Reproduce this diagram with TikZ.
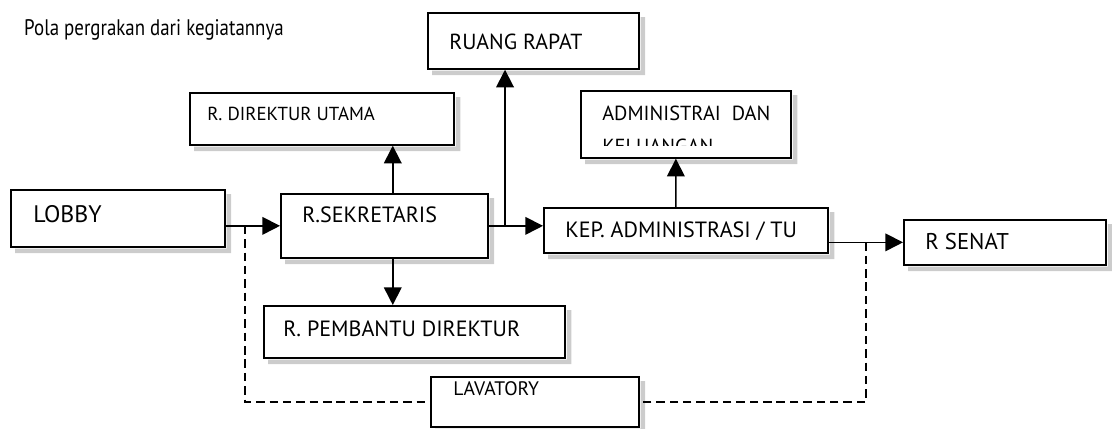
\documentclass[tikz,border=0pt]{standalone}
\usepackage{fontspec}
\setmainfont{PT Sans}
\usetikzlibrary{calc}
\usetikzlibrary{arrows.meta}

\begin{document}
\begin{tikzpicture}[x=0.025cm, y=-0.025cm, >={Triangle[length=0.44cm, width=0.44cm]},
  ruang/.style={draw, line width=1.2pt, fill=white, inner sep=0pt, anchor=north west},
  bayang/.style={fill=gray!40},
  teks/.style={anchor=base west, inner sep=0pt, font=\fontsize{#1}{#1}\selectfont},
  teks/.default=16,
  alur/.style={->, line width=1.2pt},
  lewat/.style={line width=1.2pt, dash pattern=on 6pt off 3.5pt}]

  \useasboundingbox (0,0) rectangle (1112,428);

  % ---------- Title ----------
  \node[teks=16, xscale=0.84, transform shape] (judul) at (24,35) {Pola pergrakan dari kegiatannya};

  % ---------- Rooms ----------
  \node[ruang, minimum width=5.275cm, minimum height=1.4cm]   (rapat)    at (427,12)  {};
  \node[ruang, minimum width=6.6cm,   minimum height=1.3cm]   (dirut)    at (189,92)  {};
  \node[ruang, minimum width=5.25cm,  minimum height=1.675cm] (admin)    at (580,90)  {};
  \node[ruang, minimum width=5.35cm,  minimum height=1.425cm] (lobby)    at (10,189)  {};
  \node[ruang, minimum width=5.175cm, minimum height=1.6cm]   (sek)      at (280,193) {};
  \node[ruang, minimum width=7.1cm,   minimum height=1.125cm] (kep)      at (543,207) {};
  \node[ruang, minimum width=5.05cm,  minimum height=1.125cm] (senat)    at (903,219) {};
  \node[ruang, minimum width=7.525cm, minimum height=1.3cm]   (pembantu) at (263,305) {};
  \node[ruang, minimum width=5.2cm,   minimum height=1.25cm]  (lav)      at (430,376) {};

  % shadow strips on the right and bottom sides
  \foreach \r in {rapat,dirut,admin,lobby,sek,kep,senat,pembantu,lav}
    \fill[bayang] ($(\r.north east)+(1,5)$) -- ($(\r.north east)+(5.5,5)$)
      -- ($(\r.south east)+(5.5,5.5)$) -- ($(\r.south west)+(5,5.5)$)
      -- ($(\r.south west)+(5,1)$) -- ($(\r.south east)+(1,1)$) -- cycle;

  % room names
  \node[teks=15.5] (t-rapat)    at (449,49)  {RUANG RAPAT};
  \node[teks=13.4] (t-dirut)    at (207,120) {R. DIREKTUR UTAMA};
  \node[teks=14.5] (t-admin)    at (602,120) {ADMINISTRAI\ \ DAN};
  \begin{scope}
    \clip (582,92) rectangle (788,145);
    \node[teks=14.5] (t-admin2) at (602,153) {KELUANGAN};
  \end{scope}
  \node[teks=17]   (t-lobby)    at (33,222)  {LOBBY};
  \node[teks=15.7] (t-sek)      at (302,222) {R.SEKRETARIS};
  \node[teks=15.7] (t-kep)      at (565,237) {KEP. ADMINISTRASI / TU};
  \node[teks=16.2] (t-senat)    at (925,249) {R SENAT};
  \node[teks=15.7] (t-pembantu) at (283,336) {R. PEMBANTU DIREKTUR};
  \node[teks=13.9] (t-lav)      at (453,395) {LAVATORY};

  % ---------- Movement ----------
  \draw[alur] (lobby.east |- sek.west) -- (sek.west);
  \draw[alur] ([xshift=0.21cm]sek.north) -- ([xshift=0.21cm]sek.north |- dirut.south);
  \draw[alur] ([xshift=0.21cm]sek.south) -- ([xshift=0.21cm]sek.south |- pembantu.north);
  \draw[alur] (sek.east) -- (sek.east -| kep.west);
  \coordinate (jr) at ($(sek.east)!0.3!(sek.east -| kep.west)$);
  \draw[alur] (jr) -- (jr |- rapat.south);
  \draw[alur] ([xshift=-0.25cm]kep.north) -- ([xshift=-0.25cm]admin.south);
  \draw[alur] (kep.east |- senat.west) -- (senat.west);

  % ---------- To the lavatory ----------
  \coordinate (jl) at ($(lobby.east |- sek.west)!0.36!(sek.west)$);
  \coordinate (js) at ($(kep.east |- senat.west)!0.5!(senat.west)$);
  \draw[lewat] (jl) |- (lav.west);
  \draw[lewat] (js) |- (lav.east);

\end{tikzpicture}
\end{document}
